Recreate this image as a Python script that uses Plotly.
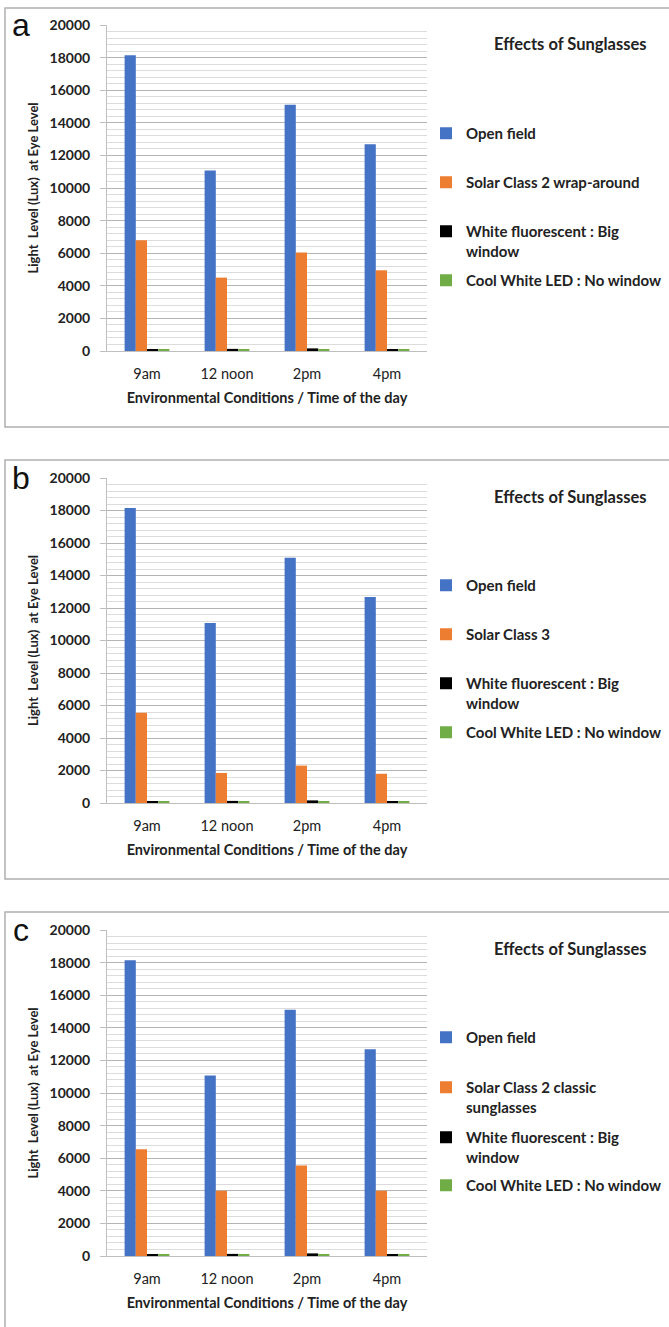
import plotly.graph_objects as go

W, H = 669, 1327

categories = ["9am", "12 noon", "2pm", "4pm"]
open_field = [18150, 11070, 15100, 12680]
solar_a = [6800, 4500, 6050, 4950]
solar_b = [5550, 1850, 2300, 1800]
solar_c = [6550, 4000, 5550, 4000]
white_fluor = [100, 130, 160, 100]
cool_led = [80, 80, 80, 80]

series_names_a = ["Open field", "Solar Class 2 wrap-around", "White fluorescent : Big<br>window", "Cool White LED : No window"]
series_names_b = ["Open field", "Solar Class 3", "White fluorescent : Big<br>window", "Cool White LED : No window"]
series_names_c = ["Open field", "Solar Class 2 classic<br>sunglasses", "White fluorescent : Big<br>window", "Cool White LED : No window"]
colors = ["#4472C4", "#ED7D31", "#000000", "#70AD47"]

FONT = "Lato"

def px_x(x):
    return x / W

def px_y(y):
    return 1 - y / H

panels = [
    dict(letter="a", top=25, bottom=351, box=(5, 8, 680, 427), names=series_names_a,
         data=[open_field, solar_a, white_fluor, cool_led], leg=[131, 180, 229, 278]),
    dict(letter="b", top=478, bottom=803, box=(5, 460, 680, 879), names=series_names_b,
         data=[open_field, solar_b, white_fluor, cool_led], leg=[583, 632, 681, 730]),
    dict(letter="c", top=930, bottom=1256, box=(5, 912, 680, 1340), names=series_names_c,
         data=[open_field, solar_c, white_fluor, cool_led], leg=[1035, 1085, 1135, 1183]),
]

fig = go.Figure()
layout = dict(
    width=W, height=H, margin=dict(l=0, r=0, t=0, b=0, pad=0, autoexpand=False),
    paper_bgcolor="white", plot_bgcolor="white",
    barmode="group", bargap=0.44, bargroupgap=0,
    showlegend=True,
    font=dict(family=FONT, color="#222222"),
)
shapes = []
annotations = []
leg_idx = 0
for i, p in enumerate(panels):
    ax = "" if i == 0 else str(i + 1)
    xa = "x" + ax
    ya = "y" + ax
    for j in range(4):
        leg_idx += 1
        lname = "legend" if leg_idx == 1 else "legend%d" % leg_idx
        fig.add_trace(go.Bar(
            x=categories, y=p["data"][j], name=p["names"][j],
            marker=dict(color=colors[j], line=dict(width=0)),
            xaxis=xa, yaxis=ya, legend=lname, offsetgroup=str(j),
            showlegend=True,
        ))
        layout[lname] = dict(
            x=px_x(426), xanchor="left", y=px_y(p["leg"][j] - 14), yanchor="top",
            bgcolor="rgba(0,0,0,0)", borderwidth=0, valign="top",
            font=dict(family=FONT, size=15, color="#222222", weight="bold"),
            itemwidth=30, itemclick=False, itemdoubleclick=False,
        )
    layout["xaxis" + ax] = dict(
        domain=[px_x(107), px_x(427)], anchor=ya, automargin=False,
        showgrid=False, showline=True, linecolor="#bfbfbf", linewidth=1,
        ticks="", ticklabelstandoff=10,
        tickfont=dict(family=FONT, size=14.5, color="#222222"),
        title=dict(text="<b>Environmental Conditions / Time of the day</b>",
                   font=dict(family=FONT, size=14.5, color="#222222"), standoff=11),
        fixedrange=True,
    )
    layout["yaxis" + ax] = dict(
        domain=[px_y(p["bottom"]), px_y(p["top"])], anchor=xa, automargin=False,
        range=[0, 20000], dtick=2000, tick0=0, tickformat="d",
        showgrid=True, gridcolor="#b4b4b4", gridwidth=1,
        minor=dict(dtick=400, showgrid=True, gridcolor="#dcdcdc", gridwidth=1, ticks=""),
        showline=True, linecolor="#bfbfbf", linewidth=1,
        ticks="outside", ticklen=6, tickcolor="#bfbfbf", ticklabelstandoff=7,
        tickfont=dict(family=FONT, size=14, color="#222222", weight="bold"),
        title=dict(text="<b>Light  Level (Lux)  at Eye Level</b>",
                   font=dict(family=FONT, size=13, color="#222222"), standoff=8),
        zeroline=False, fixedrange=True,
    )
    x0, y0, x1, y1 = p["box"]
    shapes.append(dict(type="rect", xref="paper", yref="paper",
                       x0=px_x(x0), x1=px_x(x1), y0=px_y(y1), y1=px_y(y0),
                       line=dict(color="#b0b0b0", width=1.5), fillcolor="rgba(0,0,0,0)", layer="below"))
    annotations.append(dict(text=p["letter"], xref="paper", yref="paper",
                            x=px_x(21), y=px_y(p["top"]), xanchor="center", yanchor="middle",
                            showarrow=False, font=dict(family="Liberation Sans", size=32, color="#111111")))
    annotations.append(dict(text="<b>Effects of Sunglasses</b>", xref="paper", yref="paper",
                            x=px_x(570), y=px_y(p["top"] + 19), xanchor="center", yanchor="middle",
                            showarrow=False, font=dict(family=FONT, size=16.5, color="#222222")))

layout["shapes"] = shapes
layout["annotations"] = annotations
fig.update_layout(**layout)
fig.write_html("out.html", config={"displayModeBar": False},
               post_script="document.body.style.margin='0';document.documentElement.style.margin='0';document.body.style.overflow='hidden';")
